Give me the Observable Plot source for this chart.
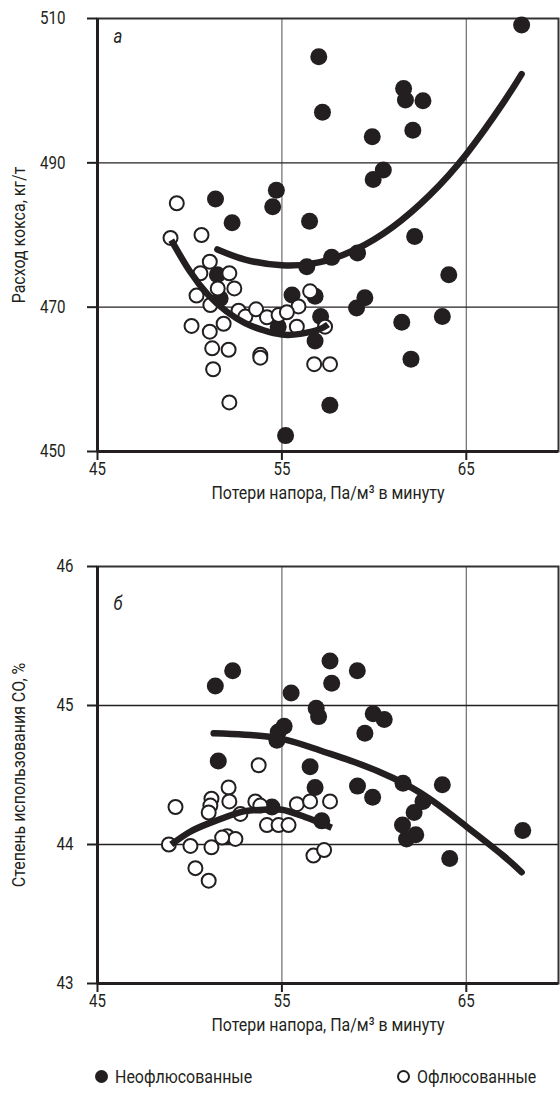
<!DOCTYPE html>
<html>
<head>
<meta charset="utf-8">
<script src="https://cdn.jsdelivr.net/npm/d3@7"></script>
<script src="https://cdn.jsdelivr.net/npm/@observablehq/plot@0.6"></script>
<style>
  body { margin: 0; background: white; }
  #wrap { width: 560px; font-family: Roboto, "Liberation Sans", sans-serif; color: #231f20; }
  .legend { position: relative; height: 61px; font-size: 19px; }
  .legend .item { position: absolute; top: 29px; height: 24px; display: flex; align-items: center; }
  .legend .sw { width: 13px; height: 13px; border-radius: 50%; box-sizing: border-box; margin-right: 7px; flex: none; }
  .legend .lab { display: inline-block; transform: scaleX(0.84); transform-origin: left center; white-space: nowrap; }
</style>
</head>
<body>
<div id="wrap"></div>
<script>
// ---- shared x axis ----
const xDomain = [45, 70];
const xTicks = [45, 55, 65];
const xTitle = "Потери напора, Па/м³ в минуту";

// ---- chart а : coke consumption ----
const aYDomain = [450, 510];
const aYTicks = [450, 470, 490, 510];
const aYTitle = "Расход кокса, кг/т";
const aFilledX = [68.0,57.0,57.2,61.6,61.7,62.65,59.9,62.1,60.5,59.95,56.5,62.2,51.4,52.3,54.7,54.5,64.05,56.35,57.7,59.1,56.8,59.5,59.05,57.1,61.5,63.7,56.8,62.0,57.6,55.2,51.5,51.65,55.55,54.8];
const aFilledY = [509.1,504.7,497.0,500.3,498.7,498.6,493.6,494.5,489.0,487.7,481.9,479.8,485.0,481.7,486.2,483.9,474.5,475.6,476.9,477.5,471.5,471.3,469.9,468.7,467.9,468.7,465.3,462.8,456.4,452.2,474.5,471.2,471.7,467.3];
const aOpenX = [48.96,50.64,49.3,51.09,50.58,52.15,51.52,52.42,50.37,51.12,50.1,51.84,51.09,51.22,52.11,53.83,53.83,51.27,52.15,52.65,53.02,53.6,54.19,54.82,55.9,55.81,56.53,56.75,57.61,57.34,55.27];
const aOpenY = [479.6,480.0,484.4,476.3,474.7,474.7,472.6,472.6,471.6,470.3,467.4,467.7,466.6,464.3,464.1,463.4,463.0,461.4,456.8,469.5,468.7,469.7,468.6,468.9,470.1,467.3,472.2,462.1,462.1,467.3,469.3];
const aFitFilledX = [51.5,53,55,57,59,61,63,65,67,68];
const aFitFilledY = [478.0,476.6,475.8,476.2,478.0,481.1,485.5,491.2,498.3,502.3];
const aFitOpenX = [49,50,51,52,53,54,55,56,57,57.5];
const aFitOpenY = [479.3,475.0,471.7,469.4,467.8,466.8,466.2,466.3,466.9,467.6];

// ---- chart б : CO utilisation ----
const bYDomain = [43, 46];
const bYTicks = [43, 44, 45, 46];
const bYTitle = "Степень использования CO, %";
const bFilledX = [51.39,52.33,55.5,55.12,54.73,54.8,51.55,57.61,59.09,57.7,56.86,56.99,59.95,60.55,59.5,59.1,59.92,61.57,63.7,62.65,62.17,61.54,61.76,62.26,68.06,64.1,56.53,56.8,57.16,54.46];
const bFilledY = [45.14,45.25,45.09,44.85,44.75,44.81,44.6,45.32,45.25,45.16,44.98,44.92,44.94,44.9,44.8,44.42,44.34,44.44,44.43,44.31,44.23,44.14,44.04,44.07,44.1,43.9,44.56,44.41,44.17,44.27];
const bOpenX = [53.74,49.23,52.11,51.18,51.12,51.03,52.15,52.75,53.56,53.83,54.19,54.82,55.36,55.81,56.53,57.61,48.87,50.04,51.18,52.03,52.48,51.76,50.31,51.03,56.71,57.29];
const bOpenY = [44.57,44.27,44.41,44.33,44.28,44.23,44.31,44.22,44.31,44.28,44.14,44.14,44.14,44.29,44.31,44.31,44.0,43.99,43.98,44.06,44.04,44.05,43.83,43.74,43.92,43.96];
const bFitFilledX = [51.3,53,55,57,59,61,63,65,67,68];
const bFitFilledY = [44.80,44.79,44.76,44.68,44.59,44.48,44.33,44.13,43.92,43.80];
const bFitOpenX = [49,50,51,52,53,54,55,56,57,57.7];
const bFitOpenY = [44.0,44.09,44.15,44.2,44.24,44.25,44.25,44.21,44.16,44.12];

const legendItems = ["Неофлюсованные", "Офлюсованные"];
const ink = "#231f20";
const fontFamily = 'Roboto, "Liberation Sans", sans-serif';
const squeeze = 0.84; // emulate the condensed face of the original

const zip = (xs, ys) => xs.map((x, i) => ({x, y: ys[i]}));

function firstLen(list) {
  try { return list.baseVal.numberOfItems ? list.baseVal.getItem(0).value : 0; } catch (e) { return 0; }
}

function condense(svg) {
  svg.querySelectorAll("text").forEach(t => {
    const x = firstLen(t.x), y = firstLen(t.y);
    const tr = t.getAttribute("transform") || "";
    t.setAttribute("transform", `${tr} translate(${x},${y}) scale(${squeeze},1) translate(${-x},${-y})`.trim());
  });
  return svg;
}

function chart({yDomain, yTicks, yTitle, letter, letterDy, filled, open, fitFilled, fitOpen, marginTop, marginBottom, height, yTickPadding}) {
  return Plot.plot({
    width: 560,
    height,
    marginLeft: 97,
    marginRight: 2,
    marginTop,
    marginBottom,
    style: {fontFamily, fontSize: "18px", color: ink, background: "white"},
    x: {domain: xDomain, axis: null},
    y: {domain: yDomain, axis: null},
    marks: [
      Plot.ruleX(xTicks.slice(1), {stroke: "#6d6d6d", strokeWidth: 1.2}),
      Plot.ruleY(yTicks.slice(1, -1), {stroke: ink, strokeWidth: 1.4}),
      Plot.frame({stroke: "#333", strokeWidth: 2}),
      Plot.ruleX([xDomain[0]], {stroke: ink, strokeWidth: 3}),
      Plot.ruleY([yDomain[0]], {stroke: ink, strokeWidth: 3}),
      Plot.axisX({ticks: xTicks, tickSize: 9, tickPadding: 2, strokeWidth: 2, fontSize: 18, label: null, tickFormat: d => String(d)}),
      Plot.axisY({ticks: yTicks, tickSize: 10, tickPadding: yTickPadding, strokeWidth: 2, fontSize: 18, label: null, tickFormat: d => String(d)}),
      Plot.text([yTitle], {frameAnchor: "left", textAnchor: "middle", lineAnchor: "middle", rotate: -90, dx: -79, fontSize: 19, fill: ink}),
      Plot.text([xTitle], {frameAnchor: "bottom", textAnchor: "middle", lineAnchor: "middle", dy: 41, fontSize: 19, fill: ink}),
      Plot.text([letter], {frameAnchor: "top-left", dx: 16, dy: letterDy, fontSize: 20, fontStyle: "italic", fill: ink, lineAnchor: "middle", textAnchor: "start"}),
      Plot.dot(filled, {x: "x", y: "y", r: 8.5, fill: ink}),
      Plot.dot(open, {x: "x", y: "y", r: 7, fill: "white", stroke: ink, strokeWidth: 2}),
      Plot.line(fitFilled, {x: "x", y: "y", curve: "natural", stroke: ink, strokeWidth: 6.5, strokeLinecap: "round"}),
      Plot.line(fitOpen, {x: "x", y: "y", curve: "natural", stroke: ink, strokeWidth: 6.5, strokeLinecap: "butt"})
    ]
  });
}

const wrap = document.getElementById("wrap");
const svgA = chart({
  yDomain: aYDomain, yTicks: aYTicks, yTitle: aYTitle, letter: "а", letterDy: 18,
  filled: zip(aFilledX, aFilledY), open: zip(aOpenX, aOpenY),
  fitFilled: zip(aFitFilledX, aFitFilledY), fitOpen: zip(aFitOpenX, aFitOpenY),
  marginTop: 18, marginBottom: 52, height: 503, yTickPadding: 22
});
const svgB = chart({
  yDomain: bYDomain, yTicks: bYTicks, yTitle: bYTitle, letter: "б", letterDy: 37,
  filled: zip(bFilledX, bFilledY), open: zip(bOpenX, bOpenY),
  fitFilled: zip(bFitFilledX, bFitFilledY), fitOpen: zip(bFitOpenX, bFitOpenY),
  marginTop: 63, marginBottom: 52, height: 532, yTickPadding: 14
});
wrap.appendChild(svgA);
wrap.appendChild(svgB);
condense(svgA);
condense(svgB);

const legend = document.createElement("div");
legend.className = "legend";
legend.innerHTML = `
  <div class="item" style="left:95px"><span class="sw" style="background:${ink}"></span><span class="lab">${legendItems[0]}</span></div>
  <div class="item" style="left:397px"><span class="sw" style="border:2.5px solid ${ink}"></span><span class="lab">${legendItems[1]}</span></div>`;
wrap.appendChild(legend);
</script>
</body>
</html>
